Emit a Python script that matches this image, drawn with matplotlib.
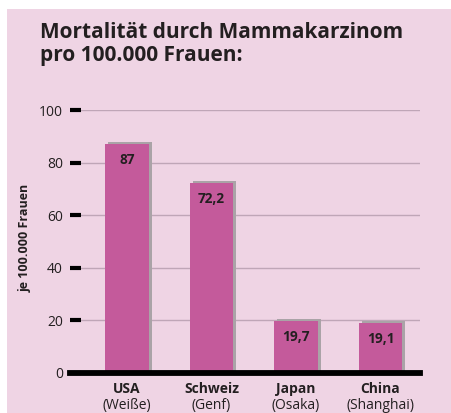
import matplotlib
matplotlib.use("Agg")
import matplotlib.pyplot as plt
from matplotlib.patches import Rectangle

countries = ["USA", "Schweiz", "Japan", "China"]
subtitles = ["(Weiße)", "(Genf)", "(Osaka)", "(Shanghai)"]
values = [87, 72.2, 19.7, 19.1]
value_labels = ["87", "72,2", "19,7", "19,1"]
yticks = [0, 20, 40, 60, 80, 100]

plt.rcParams['font.family'] = ['Open Sans', 'DejaVu Sans']

W, H = 452, 413
fig = plt.figure(figsize=(W/100, H/100), dpi=100, facecolor='white')
bg = '#EFD4E4'
fig.patches.append(Rectangle((7/W, 0), 1 - 7/W, 1 - 9/H, transform=fig.transFigure,
                             facecolor=bg, edgecolor='none', zorder=-10))

ax = fig.add_axes([70/W, 1 - 373/H, 350/W, (373 - 110)/H])
ax.set_facecolor('none')
x = list(range(len(countries)))
ax.set_xlim(-0.675, 3.467)
ax.set_ylim(0, 100)

for s in ax.spines.values():
    s.set_visible(False)

for t in yticks[1:]:
    ax.axhline(t, color='#BFA6B7', lw=1.0, zorder=1)

# shadow
ax.bar([i + 0.035 for i in x], [v + 0.8 for v in values], width=0.51,
       color='#AAA3A7', zorder=2)
ax.bar(x, values, width=0.51, color='#C45A9B', zorder=3)

ax.axhline(0, color='black', lw=4.2, zorder=5, clip_on=False)

for xi, v, lab in zip(x, values, value_labels):
    ax.annotate(lab, (xi, v), xytext=(0, -6.5), textcoords='offset points',
                ha='center', va='top', fontsize=9.8, fontweight='bold', color='#231F20', zorder=6)

ax.set_yticks(yticks)
ax.set_yticklabels([str(t) for t in yticks], fontsize=10, color='#231F20')
ax.tick_params(axis='y', direction='in', length=8, width=3, color='black', pad=5)
ax.set_xticks([])

for xi, c, s in zip(x, countries, subtitles):
    ax.text(xi, -3.4, c, ha='center', va='top', fontsize=10, fontweight='bold', color='#231F20')
    ax.text(xi, -9.6, s, ha='center', va='top', fontsize=10, color='#231F20')

fig.text(25/W, 1 - 238/H, "je 100.000 Frauen", rotation=90, ha='center', va='center',
         fontsize=9, fontweight='bold', color='#231F20')

fig.text(40/W, 1 - 22/H, "Mortalität durch Mammakarzinom\npro 100.000 Frauen:",
         ha='left', va='top', fontsize=15, fontweight='bold', color='#231F20', linespacing=1.1)

fig.savefig('out.png', dpi=100, facecolor=fig.get_facecolor())
